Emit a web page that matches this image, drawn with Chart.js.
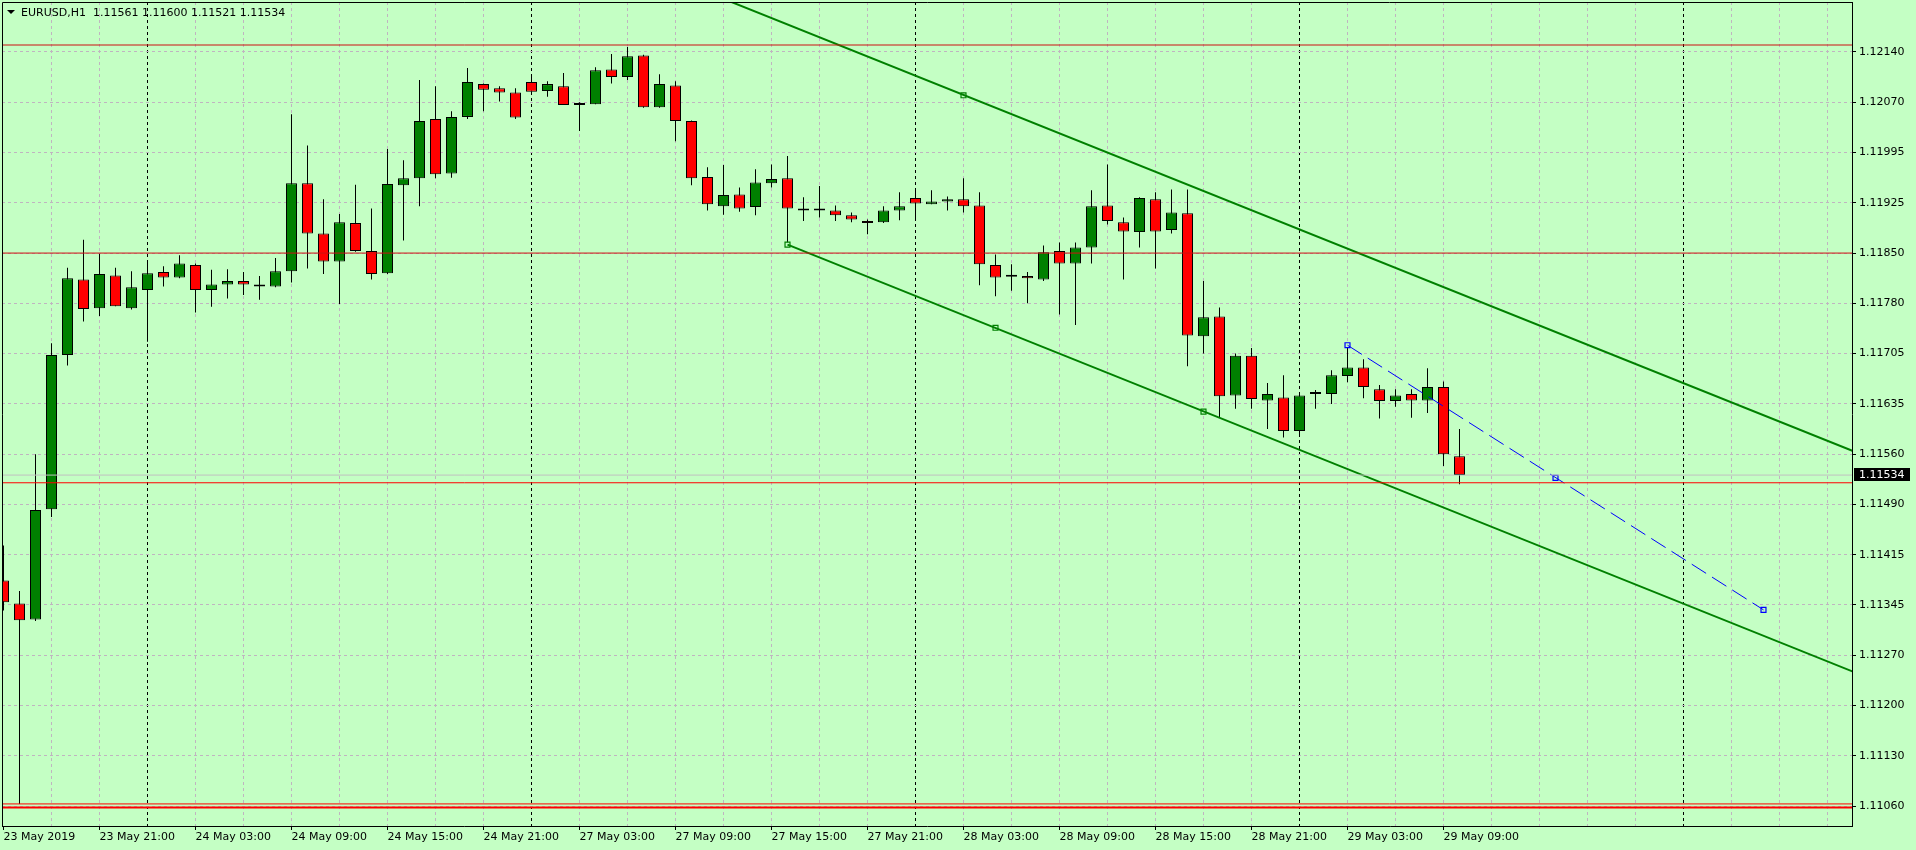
<!DOCTYPE html>
<html lang="en">
<head>
<meta charset="UTF-8">
<title>EURUSD,H1</title>
<script src="https://cdn.jsdelivr.net/npm/chart.js"></script>
<style>
  html, body { margin: 0; padding: 0; background: #c4ffc4; }
  canvas { display: block; }
</style>
</head>
<body>
<canvas id="chart" width="1916" height="850"></canvas>
<script>
// hourly bars, index 0 = 23 May 2019 15:00
const opens = [
  1.11383, 1.11350, 1.11327, 1.11485, 1.11706, 1.11814, 1.11773, 1.11820, 1.11773, 1.11799,
  1.11825, 1.11817, 1.11835, 1.11799, 1.11807, 1.11812, 1.11807, 1.11804, 1.11826, 1.11952,
  1.11880, 1.11840, 1.11895, 1.11855, 1.11823, 1.11949, 1.11959, 1.12044, 1.11966, 1.12047,
  1.12094, 1.12088, 1.12082, 1.12097, 1.12084, 1.12091, 1.12064, 1.12065, 1.12115, 1.12104,
  1.12135, 1.12061, 1.12092, 1.12041, 1.11961, 1.11919, 1.11936, 1.11918, 1.11952, 1.11959,
  1.11916, 1.11916, 1.11913, 1.11906, 1.11898, 1.11896, 1.11913, 1.11931, 1.11922, 1.11926,
  1.11929, 1.11920, 1.11835, 1.11818, 1.11819, 1.11814, 1.11855, 1.11837, 1.11860, 1.11920,
  1.11896, 1.11882, 1.11929, 1.11885, 1.11909, 1.11733, 1.11761, 1.11648, 1.11705, 1.11641,
  1.11645, 1.11597, 1.11650, 1.11650, 1.11676, 1.11688, 1.11657, 1.11640, 1.11650, 1.11641,
  1.11660, 1.11561
];
const highs = [
  1.11433, 1.11368, 1.11564, 1.11723, 1.11831, 1.11871, 1.11851, 1.11831, 1.11826, 1.11842,
  1.11833, 1.11849, 1.11837, 1.11828, 1.11829, 1.11825, 1.11819, 1.11845, 1.12051, 1.12006,
  1.11929, 1.11908, 1.11950, 1.11916, 1.12001, 1.11985, 1.12100, 1.12091, 1.12055, 1.12117,
  1.12095, 1.12091, 1.12088, 1.12108, 1.12098, 1.12110, 1.12068, 1.12118, 1.12137, 1.12147,
  1.12136, 1.12108, 1.12098, 1.12042, 1.11975, 1.11978, 1.11946, 1.11972, 1.11979, 1.11991,
  1.11932, 1.11948, 1.11920, 1.11910, 1.11900, 1.11919, 1.11939, 1.11945, 1.11942, 1.11933,
  1.11959, 1.11939, 1.11850, 1.11836, 1.11825, 1.11863, 1.11867, 1.11867, 1.11942, 1.11979,
  1.11903, 1.11932, 1.11939, 1.11943, 1.11943, 1.11812, 1.11774, 1.11708, 1.11716, 1.11666,
  1.11677, 1.11650, 1.11656, 1.11684, 1.11720, 1.11700, 1.11663, 1.11657, 1.11657, 1.11687,
  1.11668, 1.11600
];
const lows = [
  1.11340, 1.11063, 1.11325, 1.11474, 1.11691, 1.11754, 1.11762, 1.11776, 1.11771, 1.11725,
  1.11804, 1.11816, 1.11767, 1.11775, 1.11787, 1.11792, 1.11785, 1.11803, 1.11810, 1.11830,
  1.11822, 1.11779, 1.11854, 1.11814, 1.11822, 1.11870, 1.11919, 1.11959, 1.11960, 1.12044,
  1.12055, 1.12069, 1.12044, 1.12083, 1.12076, 1.12064, 1.12027, 1.12065, 1.12095, 1.12100,
  1.12060, 1.12060, 1.12012, 1.11949, 1.11913, 1.11907, 1.11911, 1.11906, 1.11946, 1.11864,
  1.11898, 1.11903, 1.11898, 1.11896, 1.11879, 1.11895, 1.11899, 1.11899, 1.11922, 1.11913,
  1.11910, 1.11806, 1.11790, 1.11798, 1.11780, 1.11812, 1.11764, 1.11749, 1.11837, 1.11893,
  1.11814, 1.11860, 1.11830, 1.11880, 1.11690, 1.11708, 1.11617, 1.11629, 1.11629, 1.11600,
  1.11588, 1.11592, 1.11629, 1.11636, 1.11667, 1.11644, 1.11615, 1.11632, 1.11616, 1.11623,
  1.11547, 1.11521
];
const closes = [
  1.11352, 1.11326, 1.11484, 1.11706, 1.11816, 1.11772, 1.11822, 1.11776, 1.11803, 1.11823,
  1.11817, 1.11837, 1.11799, 1.11807, 1.11812, 1.11807, 1.11804, 1.11826, 1.11952, 1.11880,
  1.11840, 1.11896, 1.11855, 1.11822, 1.11951, 1.11959, 1.12041, 1.11965, 1.12047, 1.12097,
  1.12086, 1.12082, 1.12046, 1.12083, 1.12094, 1.12064, 1.12064, 1.12114, 1.12104, 1.12134,
  1.12061, 1.12094, 1.12041, 1.11959, 1.11922, 1.11935, 1.11916, 1.11953, 1.11958, 1.11916,
  1.11913, 1.11913, 1.11906, 1.11900, 1.11895, 1.11913, 1.11919, 1.11923, 1.11926, 1.11929,
  1.11919, 1.11836, 1.11817, 1.11818, 1.11816, 1.11853, 1.11837, 1.11860, 1.11919, 1.11898,
  1.11883, 1.11931, 1.11883, 1.11910, 1.11734, 1.11760, 1.11647, 1.11705, 1.11643, 1.11650,
  1.11597, 1.11648, 1.11650, 1.11677, 1.11688, 1.11660, 1.11640, 1.11648, 1.11641, 1.11660,
  1.11564, 1.11534
];

// one label every 6 bars, starting at bar 0
const timeLabels = [
  '23 May 2019', '23 May 21:00', '24 May 03:00', '24 May 09:00', '24 May 15:00', '24 May 21:00',
  '27 May 03:00', '27 May 09:00', '27 May 15:00', '27 May 21:00', '28 May 03:00', '28 May 09:00',
  '28 May 15:00', '28 May 21:00', '29 May 03:00', '29 May 09:00'
];
const priceLabels = [
  '1.11060', '1.11130', '1.11200', '1.11270', '1.11345', '1.11415', '1.11490', '1.11560',
  '1.11635', '1.11705', '1.11780', '1.11850', '1.11925', '1.11995', '1.12070', '1.12140'
];

// drawn objects (bar index, price)
const redLevels = [1.12150, 1.11852, 1.11523, 1.11063, 1.11058];
const bidPrice = 1.11534;
const channelLower = [{ x: 49, y: 1.11864 }, { x: 120, y: 1.11212 }];
const channelUpper = [{ x: 40, y: 1.12262 }, { x: 120, y: 1.11528 }];
const channelHandles = [{ x: 49, y: 1.11864 }, { x: 62, y: 1.11745 }, { x: 75, y: 1.11625 }, { x: 60, y: 1.12078 }];
const trendLine = [{ x: 84, y: 1.11720 }, { x: 110, y: 1.11341 }];
const trendHandles = [{ x: 84, y: 1.11720 }, { x: 97, y: 1.11530 }, { x: 110, y: 1.11341 }];
const daySeparators = [9, 33, 57, 81, 105];
const headerText = 'EURUSD,H1  1.11561 1.11600 1.11521 1.11534';

const BG = '#c4ffc4';
const GRID = '#c0b4c0';
const X_MIN = -0.09375, X_MAX = 115.53125;
const Y_MIN = 1.110314, Y_MAX = 1.122116;
const Y_GRID0 = 1.11060, Y_STEP = 0.00072;

Chart.defaults.font.family = "'DejaVu Sans', sans-serif";
Chart.defaults.font.size = 11;
Chart.defaults.color = '#000';

const bodyColor = i => closes[i] > opens[i] ? '#008000' : closes[i] < opens[i] ? '#ff0000' : '#000';

const hLine = (y, color, width) => ({
  type: 'line',
  data: [{ x: X_MIN, y: y }, { x: X_MAX, y: y }],
  borderColor: color, borderWidth: width,
  pointRadius: 0, clip: 0, order: 0
});

const datasets = [];
redLevels.forEach((v, k) => {
  datasets.push(hLine(v, k < 2 ? '#cc1010' : '#ff0000', k === 4 ? 2 : 1));
});
datasets.push(hLine(bidPrice, '#c0c0c0', 1));
datasets.push({
  type: 'line', data: channelUpper, borderColor: '#008000', borderWidth: 2,
  pointRadius: 0, clip: 0, order: 0
});
datasets.push({
  type: 'line', data: channelLower, borderColor: '#008000', borderWidth: 2,
  pointRadius: 0, clip: 0, order: 0
});
datasets.push({
  type: 'line', data: channelHandles, showLine: false,
  pointStyle: 'rect', pointRadius: 3.5, pointBorderWidth: 1.2,
  pointBorderColor: '#008000', pointBackgroundColor: BG, order: 0
});
datasets.push({
  type: 'line', data: trendLine, borderColor: '#0000ff', borderWidth: 1,
  borderDash: [17, 7], pointRadius: 0, clip: 0, order: 0
});
datasets.push({
  type: 'line', data: trendHandles, showLine: false,
  pointStyle: 'rect', pointRadius: 3.5, pointBorderWidth: 1.2,
  pointBorderColor: '#0000ff', pointBackgroundColor: BG, order: 0
});
// candle bodies
datasets.push({
  type: 'bar',
  data: opens.map((o, i) => ({ x: i, y: [o, closes[i]] })),
  backgroundColor: opens.map((o, i) => bodyColor(i)),
  borderColor: '#000', borderWidth: 1, borderSkipped: false,
  maxBarThickness: 11, minBarLength: 2, grouped: false, inflateAmount: 0,
  order: 1
});
// wicks
datasets.push({
  type: 'bar',
  data: lows.map((l, i) => ({ x: i, y: [l, highs[i]] })),
  backgroundColor: '#000', borderWidth: 0,
  maxBarThickness: 1, grouped: false, inflateAmount: 0,
  order: 2
});

const bgPlugin = {
  id: 'bg',
  beforeDraw(chart) {
    const ctx = chart.ctx;
    ctx.save();
    ctx.fillStyle = BG;
    ctx.fillRect(0, 0, chart.width, chart.height);
    ctx.restore();
  }
};

const overlayPlugin = {
  id: 'overlay',
  afterDraw(chart) {
    const ctx = chart.ctx;
    const a = chart.chartArea;
    ctx.save();
    // frame left + top
    ctx.strokeStyle = '#000';
    ctx.lineWidth = 1;
    ctx.beginPath();
    ctx.moveTo(a.left + 0.5, a.bottom);
    ctx.lineTo(a.left + 0.5, a.top + 0.5);
    ctx.lineTo(a.right, a.top + 0.5);
    ctx.stroke();

    // header
    ctx.fillStyle = '#000';
    ctx.beginPath();
    ctx.moveTo(7, 10);
    ctx.lineTo(15, 10);
    ctx.lineTo(11, 14);
    ctx.closePath();
    ctx.fill();
    ctx.font = "11px 'DejaVu Sans'";
    ctx.textBaseline = 'middle';
    ctx.textAlign = 'left';
    ctx.fillText(headerText, 21, 13);

    // bid price box on the axis
    const y = Math.round(chart.scales.y.getPixelForValue(bidPrice));
    ctx.fillStyle = '#000';
    ctx.fillRect(a.right + 2, y - 7, 56, 13);
    ctx.fillStyle = '#fff';
    ctx.fillText(bidPrice.toFixed(5), a.right + 7, y);
    ctx.restore();
  }
};

const noPad = scale => {
  scale.paddingLeft = 0;
  scale.paddingRight = 0;
  scale.paddingTop = 0;
  scale.paddingBottom = 0;
};

new Chart(document.getElementById('chart'), {
  type: 'bar',
  data: { datasets: datasets },
  options: {
    responsive: false,
    animation: false,
    events: [],
    layout: { autoPadding: false, padding: { left: 2, top: 2, right: 0, bottom: 0 } },
    plugins: { legend: { display: false }, tooltip: { enabled: false } },
    scales: {
      x: {
        type: 'linear',
        min: X_MIN, max: X_MAX, bounds: 'data', offset: false,
        afterBuildTicks(scale) {
          const t = [];
          for (let v = 0; v <= 114; v += 3) t.push({ value: v });
          scale.ticks = t;
        },
        afterFit(scale) { scale.height = 24; noPad(scale); },
        ticks: {
          autoSkip: false, maxRotation: 0, minRotation: 0, align: 'start', padding: 1,
          callback: v => (v % 6 === 0 && timeLabels[v / 6]) ? timeLabels[v / 6] : ''
        },
        grid: {
          offset: false, tickLength: 4, tickBorderDash: [1, 0],
          color: c => {
            const v = c.tick ? c.tick.value : -1;
            if (v === 0) return 'rgba(0,0,0,0)';
            return daySeparators.includes(v) ? '#000' : GRID;
          },
          tickColor: c => {
            const v = c.tick ? c.tick.value : -1;
            return (v % 6 === 0 && v / 6 < timeLabels.length) ? '#000' : 'rgba(0,0,0,0)';
          }
        },
        border: { color: '#000', width: 1, dash: [3, 3] }
      },
      y: {
        type: 'linear', position: 'right',
        min: Y_MIN, max: Y_MAX, bounds: 'data', beginAtZero: false,
        afterBuildTicks(scale) {
          scale.ticks = priceLabels.map((l, k) => ({ value: Y_GRID0 + k * Y_STEP }));
        },
        afterFit(scale) { scale.width = 64; noPad(scale); },
        ticks: {
          autoSkip: false, padding: 3,
          callback: (v, i) => priceLabels[i]
        },
        grid: { color: GRID, tickLength: 4, tickColor: '#000', tickBorderDash: [1, 0] },
        border: { color: '#000', width: 1, dash: [3, 3] }
      }
    }
  },
  plugins: [bgPlugin, overlayPlugin]
});
</script>
</body>
</html>
